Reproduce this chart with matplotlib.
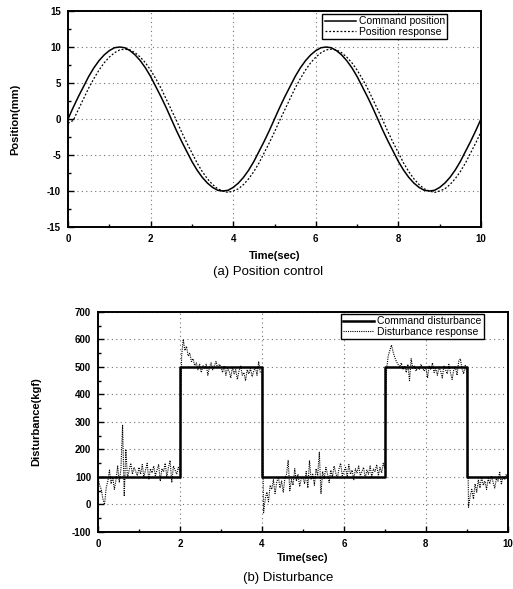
import numpy as np
import matplotlib
matplotlib.use("Agg")
import matplotlib.pyplot as plt
from matplotlib.ticker import MultipleLocator

# (a) position control, sampled every 0.125 s
pos_t = np.linspace(0, 10, 81)
cmd_pos = [0, 1.6, 3.1, 4.5, 5.9, 7.1, 8.1, 8.9, 9.5, 9.9, 10, 9.9, 9.5, 8.9, 8.1, 7.1, 5.9, 4.5, 3.1, 1.6,
           0, -1.6, -3.1, -4.5, -5.9, -7.1, -8.1, -8.9, -9.5, -9.9, -10, -9.9, -9.5, -8.9, -8.1, -7.1, -5.9, -4.5, -3.1, -1.6,
           0, 1.6, 3.1, 4.5, 5.9, 7.1, 8.1, 8.9, 9.5, 9.9, 10, 9.9, 9.5, 8.9, 8.1, 7.1, 5.9, 4.5, 3.1, 1.6,
           0, -1.6, -3.1, -4.5, -5.9, -7.1, -8.1, -8.9, -9.5, -9.9, -10, -9.9, -9.5, -8.9, -8.1, -7.1, -5.9, -4.5, -3.1, -1.6,
           0]
resp_pos = [-0.6,
            -0.2, 1.3, 2.8, 4.3, 5.6, 6.8, 7.8, 8.6, 9.2, 9.6, 9.7, 9.6, 9.2, 8.6, 7.8, 6.8, 5.6, 4.3, 2.8, 1.3,
            -0.2, -1.8, -3.3, -4.7, -6.1, -7.3, -8.3, -9.1, -9.7, -10.0, -10.2, -10.0, -9.7, -9.1, -8.3, -7.3, -6.1, -4.7, -3.3, -1.8,
            -0.2, 1.3, 2.8, 4.3, 5.6, 6.8, 7.8, 8.6, 9.2, 9.6, 9.7, 9.6, 9.2, 8.6, 7.8, 6.8, 5.6, 4.3, 2.8, 1.3,
            -0.2, -1.8, -3.3, -4.7, -6.1, -7.3, -8.3, -9.1, -9.7, -10.0, -10.2, -10.0, -9.7, -9.1, -8.3, -7.3, -6.1, -4.7, -3.3, -1.8]

# (b) disturbance
cmd_dist_t = [0, 2, 2, 4, 4, 7, 7, 9, 9, 10]
cmd_dist = [100, 100, 500, 500, 100, 100, 500, 500, 100, 100]

dist_t = np.linspace(0, 10, 251)  # every 0.04 s
resp_dist = [
    # 0 s
    100, 70, 55, 20, 0, 60, 85, 125, 75, 100, 55, 90, 140, 80, 130, 290, 30, 200, 95, 125, 150, 110, 135, 120, 105,
    # 1 s
    135, 110, 145, 100, 125, 150, 90, 130, 115, 140, 105, 125, 145, 85, 130, 120, 150, 100, 135, 160, 80, 140, 125, 110, 135,
    # 2 s
    120, 540, 600, 560, 575, 540, 550, 520, 530, 505, 515, 490, 510, 480, 505, 495, 510, 470, 500, 515, 490, 505, 520, 495, 510,
    # 3 s
    500, 480, 505, 470, 495, 485, 460, 500, 475, 490, 455, 485, 505, 470, 480, 450, 490, 475, 495, 465, 485, 500, 470, 520, 480,
    # 4 s
    480, -30, 20, 45, 10, 70, 55, 90, 40, 80, 100, 60, 85, 45, 95, 110, 160, 50, 90, 70, 130, 85, 110, 65, 95,
    # 5 s
    100, 75, 120, 60, 160, 90, 110, 70, 130, 105, 190, 40, 120, 95, 135, 110, 80, 125, 100, 140, 115, 95, 130, 150, 105,
    # 6 s
    120, 135, 100, 145, 110, 125, 90, 130, 115, 140, 105, 120, 135, 95, 125, 110, 140, 100, 130, 120, 145, 105, 135, 115, 150,
    # 7 s
    130, 490, 540, 560, 580, 555, 535, 520, 510, 500, 515, 490, 505, 480, 510, 450, 530, 495, 505, 485, 500, 490, 510, 495, 485,
    # 8 s
    500, 460, 505, 490, 515, 480, 495, 470, 500, 485, 460, 505, 490, 475, 510, 480, 455, 490, 500, 470, 520, 530, 495, 475, 505,
    # 9 s
    480, -10, 30, 55, 20, 75, 45, 90, 60, 100, 70, 85, 55, 95, 75, 105, 80, 60, 95, 85, 120, 75, 100, 90, 110,
    95]

plt.rcParams["font.family"] = ["Liberation Sans", "DejaVu Sans"]
plt.rcParams["axes.unicode_minus"] = False

fig = plt.figure(figsize=(5.13, 5.89), dpi=100)
ax1 = fig.add_axes([0.1326, 0.6146, 0.805, 0.3667])
ax2 = fig.add_axes([0.191, 0.0968, 0.799, 0.3735])


def style(ax):
    ax.set_xlim(0, 10)
    ax.xaxis.set_major_locator(MultipleLocator(2))
    ax.xaxis.set_minor_locator(MultipleLocator(1))
    ax.tick_params(which="both", direction="in", top=False, right=False,
                   labelsize=7, width=1.0)
    ax.tick_params(which="major", length=4, pad=5)
    ax.tick_params(which="minor", length=2.5)
    for lab in ax.get_xticklabels() + ax.get_yticklabels():
        lab.set_fontweight("bold")
    for s in ax.spines.values():
        s.set_linewidth(1.4)
    ax.grid(True, which="major", color="0.45", linestyle=(0, (1, 3)), linewidth=0.8)


ax1.plot(pos_t, cmd_pos, color="black", linewidth=1.1, label="Command position")
ax1.plot(pos_t, resp_pos, color="black", linewidth=0.9, linestyle=(0, (1.5, 1.5)), label="Position response")
ax1.set_ylim(-15, 15)
ax1.yaxis.set_major_locator(MultipleLocator(5))
ax1.yaxis.set_minor_locator(MultipleLocator(2.5))
style(ax1)
ax1.set_xlabel("Time(sec)", fontsize=8, fontweight="bold", labelpad=5)
ax1.set_ylabel("Position(mm)", fontsize=8, fontweight="bold", labelpad=19)
leg1 = ax1.legend(loc="upper right", bbox_to_anchor=(0.918, 0.985), fontsize=7.5,
                  frameon=True, fancybox=False, framealpha=1, edgecolor="black",
                  handlelength=3.0, borderpad=0.2, labelspacing=0.05, handletextpad=0.3,
                  borderaxespad=0)
leg1.get_frame().set_linewidth(1.0)

ax2.step(cmd_dist_t, cmd_dist, where="post", color="black", linewidth=1.8, label="Command disturbance")
ax2.plot(dist_t, resp_dist, color="black", linewidth=0.8, linestyle=(0, (1, 1)), label="Disturbance response")
ax2.set_ylim(-100, 700)
ax2.yaxis.set_major_locator(MultipleLocator(100))
ax2.yaxis.set_minor_locator(MultipleLocator(50))
style(ax2)
ax2.set_xlabel("Time(sec)", fontsize=8, fontweight="bold", labelpad=3)
ax2.set_ylabel("Disturbance(kgf)", fontsize=8, fontweight="bold", labelpad=22)
leg2 = ax2.legend(loc="upper right", bbox_to_anchor=(0.941, 0.99), fontsize=7.5,
                  frameon=True, fancybox=False, framealpha=1, edgecolor="black",
                  handlelength=3.0, borderpad=0.2, labelspacing=0.05, handletextpad=0.3,
                  borderaxespad=0)
leg2.get_frame().set_linewidth(1.0)

fig.text(0.522, 1 - 272 / 589, "(a) Position control", ha="center", va="center", fontsize=9.5)
fig.text(0.561, 1 - 578 / 589, "(b) Disturbance", ha="center", va="center", fontsize=9.5)

fig.savefig("out.png", dpi=100)
